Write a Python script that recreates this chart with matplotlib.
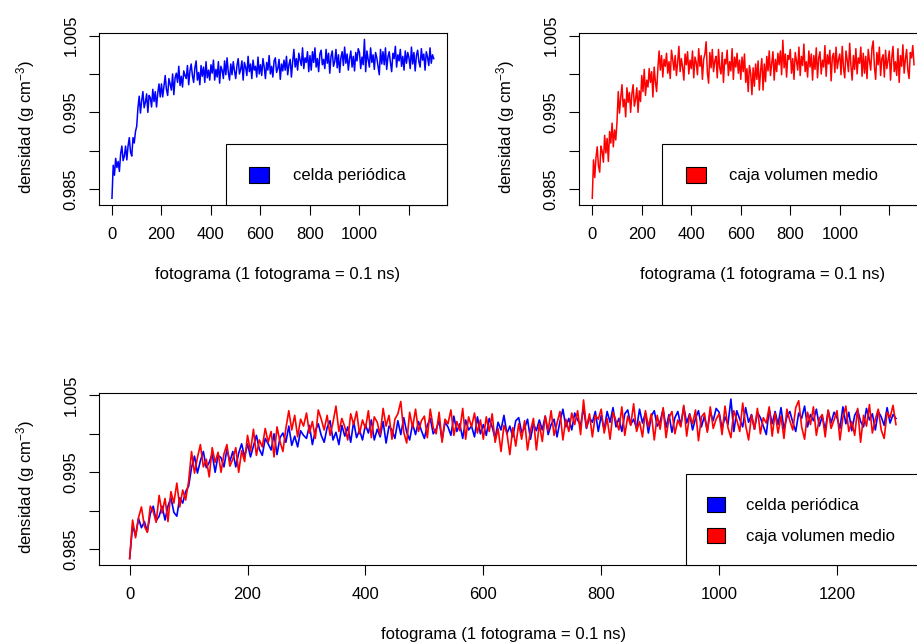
import numpy as np
import matplotlib
matplotlib.use("Agg")
import matplotlib.pyplot as plt
from matplotlib.patches import Rectangle

# ---- data: density every 5 frames, in units of 1e-5 g cm^-3 ----
frames = np.arange(0, 1301, 5)

celda_periodica = [
    98380, 98810, 98680, 98900, 98780, 98860, 98730, 98960, 99060, 98870, 98930, 99060, 98880, 99060, 99170, 98980, 98930, 99170, 99100, 99250,
    99320, 99560, 99710, 99490, 99650, 99770, 99560, 99630, 99740, 99500, 99720, 99690, 99570, 99800, 99640, 99770, 99570, 99750, 99870, 99700,
    99870, 99700, 99840, 99980, 99800, 99720, 99940, 99870, 99790, 100000, 99730, 99950, 100010, 99890, 100100, 99850, 99970, 99830, 100040, 99980,
    99940, 100110, 99860, 100040, 100130, 99980, 99890, 100080, 100170, 99920, 100020, 99860, 100110, 99970, 100090, 99890, 100160, 99950, 100050, 99920,
    100120, 100010, 100180, 99920, 100060, 99960, 100160, 99880, 100100, 100050, 99940, 100170, 99990, 100210, 100020, 99920, 100130, 99990, 100160, 100040,
    99940, 100110, 100200, 100000, 100060, 100170, 99920, 100150, 100090, 99980, 100230, 100030, 100130, 99940, 100180, 100050, 100100, 99960, 100220, 100000,
    100120, 99980, 100200, 100090, 99940, 100150, 100050, 100240, 100000, 100100, 99960, 100170, 100210, 100020, 100070, 100190, 99930, 100130, 100040, 100180,
    100050, 100230, 99990, 100120, 100190, 99960, 100160, 100320, 100090, 100200, 100050, 100270, 100180, 100110, 100340, 100070, 100210, 100150, 100290, 100030,
    100240, 100050, 100290, 100150, 100340, 100090, 100200, 100030, 100260, 100310, 100120, 100190, 100070, 100320, 100140, 100270, 100010, 100230, 100300, 100100,
    100160, 100320, 100080, 100250, 100020, 100210, 100290, 100110, 100350, 100140, 100260, 100050, 100200, 100300, 100090, 100230, 100040, 100280, 100170, 100330,
    100280, 100070, 100220, 100120, 100451, 100030, 100300, 100190, 100090, 100340, 100150, 100250, 100060, 100280, 100210, 100100, 99990, 100320, 100130, 100290,
    100120, 100340, 100060, 100220, 100290, 100150, 100030, 100270, 100200, 100360, 100090, 100250, 100170, 100320, 100100, 100230, 100050, 100300, 100140, 100280,
    100210, 100070, 100350, 100130, 100280, 100040, 100240, 100310, 100160, 100090, 100330, 100180, 100260, 100050, 100290, 100220, 100110, 100340, 100140, 100250,
    100200,
]

caja_volumen_medio = [
    98380, 98880, 98650, 98910, 99050, 98800, 98720, 99060, 98990, 98850, 99200, 98970, 99160, 98860, 99250, 99100, 99360, 99050, 99270, 99140,
    99380, 99770, 99490, 99690, 99860, 99570, 99670, 99440, 99820, 99630, 99760, 99500, 99740, 99860, 99580, 99670, 99820, 99500, 99780, 99640,
    99980, 99770, 100060, 99720, 99920, 99830, 100070, 99890, 100030, 99700, 100090, 99900, 99770, 100070, 100300, 100050, 100240, 99960, 100190, 100100,
    100270, 100010, 100160, 99940, 100310, 100190, 100050, 100240, 99980, 100150, 100360, 100030, 100200, 100090, 99920, 100260, 100120, 100290, 100000, 100180,
    100070, 100300, 99950, 100220, 100150, 99990, 100330, 100100, 100240, 99930, 100190, 100260, 100420, 100020, 99880, 100280, 100080, 100320, 100030, 100170,
    100230, 99950, 100320, 100080, 100000, 100280, 99890, 100190, 100130, 100310, 99980, 100160, 100040, 100330, 99930, 100220, 100090, 100270, 100010, 100180,
    99930, 100220, 100030, 100260, 99890, 100070, 99770, 100110, 100010, 99730, 100080, 99840, 100130, 99930, 100170, 99790, 100040, 100200, 99790, 100130,
    99900, 100230, 100040, 100300, 99980, 100140, 100290, 99920, 100190, 100030, 100270, 100120, 100300, 99990, 100440, 100080, 100260, 99960, 100240, 100190,
    100320, 100010, 100200, 99930, 100280, 100170, 100050, 100350, 99980, 100230, 100110, 100390, 100030, 100160, 99960, 100300, 100090, 100260, 99920, 100240,
    100060, 100340, 99950, 100210, 100290, 100000, 100180, 100090, 100370, 99970, 100250, 100130, 100310, 99910, 100220, 100270, 100020, 100350, 100070, 100190,
    100260, 99990, 100360, 100080, 99950, 100300, 100180, 100030, 100400, 100110, 99920, 100240, 100060, 100330, 100000, 100210, 100140, 100350, 99970, 100270,
    100010, 100230, 99940, 100320, 100170, 100050, 100340, 100430, 100090, 99930, 100280, 100120, 100350, 99980, 100200, 100250, 99960, 100310, 100070, 100180,
    100300, 99920, 100210, 100360, 100030, 100160, 99980, 100330, 99890, 100240, 100100, 100380, 100010, 100190, 100320, 100050, 99940, 100280, 100210, 100370,
    100120,
]

series_names = ["celda periódica", "caja volumen medio"]
series_colors = ["#0000FF", "#FF0000"]

y_ticks = [0.985, 0.990, 0.995, 1.000, 1.005]
y_tick_labels = ["0.985", "", "0.995", "", "1.005"]
x_ticks = [0, 200, 400, 600, 800, 1000, 1200]
x_tick_labels_small = ["0", "200", "400", "600", "800", "1000", ""]
x_tick_labels_wide = ["0", "200", "400", "600", "800", "1000", "1200"]

xlabel = "fotograma (1 fotograma = 0.1 ns)"
ylabel = r"densidad (g cm$^{-3}$)"

dens_p = np.array(celda_periodica) / 1e5
dens_c = np.array(caja_volumen_medio) / 1e5

# ---- figure ----
plt.rcParams["font.family"] = ["Liberation Sans", "DejaVu Sans"]
plt.rcParams["mathtext.default"] = "regular"
plt.rcParams["font.size"] = 12

W, H = 917, 642
fig = plt.figure(figsize=(W / 100, H / 100), dpi=100)


def rect(x0, y0, x1, y1):
    """pixel box (origin top-left) -> figure-fraction [l, b, w, h]"""
    return [x0 / W, 1 - y1 / H, (x1 - x0) / W, (y1 - y0) / H]


def fx(x):
    return x / W


def fy(y):
    return 1 - y / H


def style_axes(ax, xlabels):
    ax.set_xlim(-52, 1352)
    ax.set_ylim(0.98292, 1.00534)
    ax.set_xticks(x_ticks)
    ax.set_xticklabels(xlabels)
    ax.set_yticks(y_ticks)
    ax.set_yticklabels(y_tick_labels, rotation=90, va="center")
    ax.tick_params(axis="both", direction="out", length=7.2, width=0.8,
                   colors="black", labelsize=12)
    ax.tick_params(axis="x", pad=8.6)
    ax.tick_params(axis="y", pad=7.6)
    for s in ax.spines.values():
        s.set_linewidth(0.8)
        s.set_color("black")


def legend_box(x0, y0, x1, y1, entries):
    fig.add_artist(Rectangle((fx(x0), fy(y1)), fx(x1) - fx(x0), fy(y0) - fy(y1),
                             transform=fig.transFigure, facecolor="white",
                             edgecolor="black", lw=0.8, zorder=5))
    for (px0, py0, px1, py1, tx, name, color) in entries:
        fig.add_artist(Rectangle((fx(px0), fy(py1)), fx(px1) - fx(px0), fy(py0) - fy(py1),
                                 transform=fig.transFigure, facecolor=color,
                                 edgecolor="black", lw=0.8, zorder=6))
        fig.text(fx(tx), fy((py0 + py1) / 2 + 1), name, ha="left", va="center",
                 fontsize=12, zorder=7)


# top-left: periodic cell
ax1 = fig.add_axes(rect(99.1, 33, 446.6, 205))
ax1.plot(frames, dens_p, color=series_colors[0], lw=1.1)
style_axes(ax1, x_tick_labels_small)

# top-right: mean-volume box
ax2 = fig.add_axes(rect(579.4, 33, 926.9, 205))
ax2.plot(frames, dens_c, color=series_colors[1], lw=1.1)
style_axes(ax2, x_tick_labels_small)

# bottom: both together
ax3 = fig.add_axes(rect(99.0, 392.7, 926.6, 565.3))
ax3.plot(frames, dens_p, color=series_colors[0], lw=1.2)
ax3.plot(frames, dens_c, color=series_colors[1], lw=1.2)
style_axes(ax3, x_tick_labels_wide)

# axis titles
fig.text(fx(278), fy(275), xlabel, ha="center", va="center", fontsize=12)
fig.text(fx(763), fy(275), xlabel, ha="center", va="center", fontsize=12)
fig.text(fx(504), fy(635), xlabel, ha="center", va="center", fontsize=12)
fig.text(fx(25.5), fy(127), ylabel, rotation=90, ha="center", va="center", fontsize=12)
fig.text(fx(506), fy(127), ylabel, rotation=90, ha="center", va="center", fontsize=12)
fig.text(fx(25.5), fy(487), ylabel, rotation=90, ha="center", va="center", fontsize=12)

# legends
legend_box(225.7, 144.3, 446.6, 205,
           [(249.3, 166.7, 269.3, 182.7, 292.7, series_names[0], series_colors[0])])
legend_box(661.7, 144.3, 935, 205,
           [(685.7, 166.7, 705.7, 182.7, 729.3, series_names[1], series_colors[1])])
legend_box(685.7, 473.7, 935, 565.3,
           [(707, 496.7, 725.3, 512.3, 746.5, series_names[0], series_colors[0]),
            (707, 527.7, 725.3, 543.3, 746.5, series_names[1], series_colors[1])])

fig.savefig("out.png", dpi=100)
